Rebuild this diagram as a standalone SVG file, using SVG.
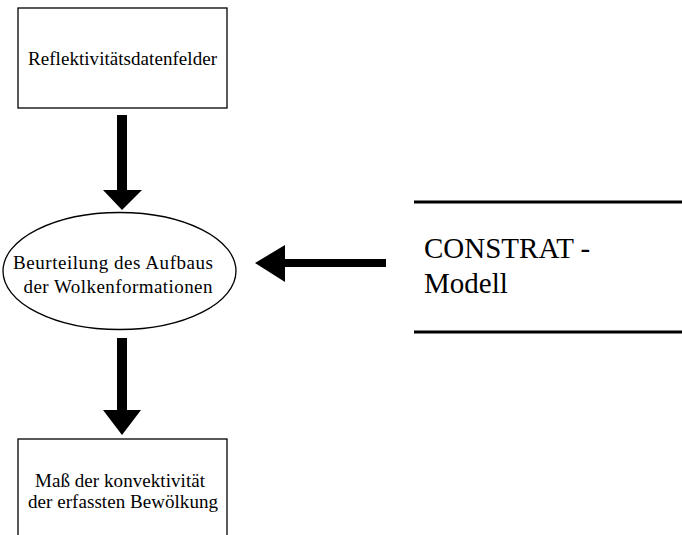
<svg xmlns="http://www.w3.org/2000/svg" width="682" height="535" viewBox="0 0 682 535">
  <style>
    .box { fill: #fff; stroke: #000; stroke-width: 1.3; }
    .lbl { font-family: "Liberation Serif", "Times New Roman", serif; fill: #000; }
    .small { font-size: 19px; }
    .big { font-size: 29px; }
    .arrow { fill: #000; stroke: none; }
    .rule { stroke: #000; stroke-width: 3; }
  </style>
  <rect width="682" height="535" fill="#fff"/>

  <g id="reflektivitaet">
    <rect class="box" x="18" y="8" width="209" height="100"/>
    <text class="lbl small" x="122.5" y="65" text-anchor="middle" textLength="189" lengthAdjust="spacing">Reflektivitätsdatenfelder</text>
  </g>

  <g id="beurteilung">
    <ellipse class="box" cx="119.5" cy="271" rx="116.5" ry="58.5"/>
    <text class="lbl small" x="113" y="269" text-anchor="middle" textLength="200" lengthAdjust="spacing">Beurteilung des Aufbaus</text>
    <text class="lbl small" x="118" y="293" text-anchor="middle" textLength="189" lengthAdjust="spacing">der Wolkenformationen</text>
  </g>

  <g id="constrat">
    <line class="rule" x1="414" y1="202" x2="682" y2="202"/>
    <line class="rule" x1="414" y1="332" x2="682" y2="332"/>
    <text class="lbl big" x="424" y="258">CONSTRAT -</text>
    <text class="lbl big" x="424" y="293">Modell</text>
  </g>

  <g id="mass">
    <rect class="box" x="18" y="439" width="209" height="110"/>
    <text class="lbl small" x="120" y="487" text-anchor="middle" textLength="170" lengthAdjust="spacing">Maß der konvektivität</text>
    <text class="lbl small" x="123" y="508" text-anchor="middle" textLength="190" lengthAdjust="spacing">der erfassten Bewölkung</text>
  </g>

  <g id="connectors">
    <polygon class="arrow" points="117,115 127,115 127,190 142,190 122,210 103,190 117,190"/>
    <polygon class="arrow" points="117,338 127,338 127,410 141,410 122,435 103,410 117,410"/>
    <polygon class="arrow" points="386,259 386,267 285,267 285,282 255,263 285,245 285,259"/>
  </g>
</svg>
